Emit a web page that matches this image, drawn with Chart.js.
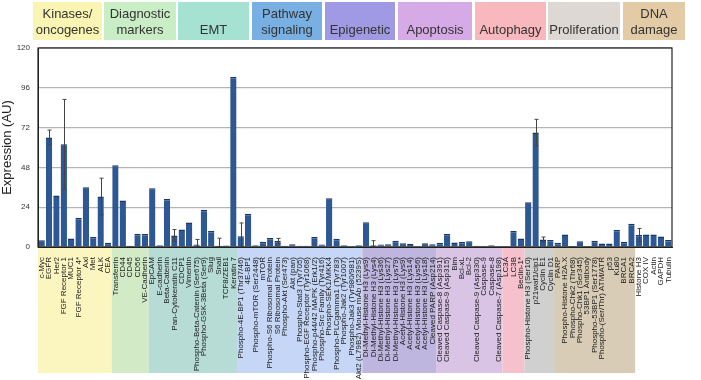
<!DOCTYPE html>
<html>
<head>
<meta charset="utf-8">
<script src="https://cdn.jsdelivr.net/npm/chart.js@4.4.1/dist/chart.umd.min.js"></script>
<style>
  html, body { margin: 0; padding: 0; background: #fff; }
  #wrap { width: 701px; height: 380px; }
</style>
</head>
<body>
<div id="wrap"><canvas id="chart" width="701" height="380"></canvas></div>
<script>
// marker names, one per bar
const labels = [
    'c-Myc', 'EGFR', 'Her2', 'FGF Receptor 1', 'MUC1', 'FGF Receptor 4*', 'Axl', 'Met', 'ALK', 'CEA',
    'Transferrin', 'CD44', 'CD45', 'CD56', 'VE-Cadherin',
    'EpCAM', 'E-cadherin', 'Beta-Catenin', 'Pan-Cytokeratin C11', 'CDCP1', 'Vimentin',
    'Phospho-Beta-Catenin (Ser675)', 'Phospho-GSK-3Beta (Ser9)', 'Slug', 'Snail', 'TCF8/ZEB1', 'Keratin 7',
    'Phospho-4E-BP1 (Thr37/46)', '4E-BP1', 'Phospho-mTOR (Ser2448)', 'mTOR',
    'Phospho-S6 Ribosomal Protein', 'S6 Ribosomal Protein', 'Phospho-Akt (Ser473)', 'Akt (pan)',
    'Phospho-Stat3 (Tyr705)', 'Phospho-EGF Receptor (Tyr1068)', 'Phospho-p44/42 MAPK (Erk1/2)',
    'Phospho-Src Family (Tyr416)', 'Phospho-SEK1/MKK4', 'Phospho-PLCgamma1 (Tyr783)',
    'Phospho-Jak2 (Tyr1007)', 'Phospho-Jak3 (Tyr980/981)', 'Akt2 (L79B2) Mouse mAb (5239S)',
    'Di-Methyl-Histone H3 (Lys9)', 'Di-Methyl-Histone H3 (Lys4)', 'Di-Methyl-Histone H3 (Lys36)',
    'Di-Methyl-Histone H3 (Lys27)', 'Di-Methyl-Histone H3 (Lys79)', 'Acetyl-Histone H3 (Lys9)',
    'Acetyl-Histone H3 (Lys14)', 'Acetyl-Histone H3 (Lys56)', 'Acetyl-Histone H3 (Lys18)', 'Cleaved PARP (Asp214)',
    'Cleaved Caspase-8 (Asp391)', 'Cleaved Caspase-9 (Asp315)', 'Bim', 'Bcl-xL', 'Bcl-2',
    'Cleaved Caspase-9 (Asp330)', 'Caspase-9', 'Caspase-8', 'Cleaved Caspase-7 (Asp198)',
    'LC3A', 'LC3B', 'Beclin-1*',
    'Phospho-Histone H3 (Ser10)', 'p21waf1/cip1', 'Cyclin E1', 'Cyclin D1', 'PARP',
    'Phospho-Histone H2A.X', 'Phospho-Chk2 (Thr68)', 'Phospho-Chk1 (Ser345)', '53BP1 Antibody',
    'Phospho-53BP1 (Ser1778)', 'Phospho-(Ser/Thr) ATM/ATR', 'p53', 'Ku80', 'BRCA1', 'BRCA2',
    'Histone H3', 'COX IV', 'Actin', 'GAPDH', 'Tubulin'
];

// mean expression (AU)
const expression = [
    4, 66, 31, 62, 5.2, 17.7, 36, 6, 30.5, 2.5,
    49.3, 28, 0.7, 7.8, 7.8,
    35.5, 1, 29, 7, 10.6, 14.7, 1.5, 22.4, 9.6, 0.8, 0.9, 102.5,
    6.5, 20, 1.1, 3.1, 5.5, 3.7, 0.7, 1.7, 0.7, 0.7, 6.1, 1.5, 29.4, 4.9, 1.1, 0.5, 1.1,
    14.9, 1, 1.5, 1.7, 3.7, 2.3, 2, 0.5, 2.3, 1.7,
    2.5, 7.8, 2.7, 3, 3.5, 0.7, 0.2, 1.1, 0.3,
    0.3, 9.6, 5.2,
    27, 69, 4.5, 4.2,
    2.5, 7.6, 0.1, 3.5, 0.2, 3.7, 2.1, 2.1, 10.2, 3.1, 14,
    7.2, 7.6, 7.6, 6.4, 4.2
];

// error (+/-), 0 where no bar drawn
const errors = [
    0, 4.5, 0, 27, 0, 0, 0, 0, 11, 0,
    0, 0, 0, 0, 0,
    0, 0, 0, 3.5, 0, 0, 3, 0, 0, 4.5, 0, 0,
    8, 0, 0, 0, 0, 1.5, 0, 0, 0, 0, 0, 0, 0, 0, 0, 0, 0,
    0, 2.8, 0, 0, 0, 0, 0, 0, 0, 0,
    0, 0, 0, 0, 0, 0, 0, 0, 0,
    0, 0, 0,
    0, 8, 1.5, 0,
    0, 0, 0, 0, 0, 0, 0, 0, 0, 0, 0,
    4, 0, 0, 0, 0
];

const yTicks = [0, 24, 48, 72, 96, 120];

// groups: name lines, first bar, last bar, header colour, band colour
const groupNames = [['Kinases/', 'oncogenes'], ['Diagnostic', 'markers'], ['EMT'], ['Pathway', 'signaling'],
    ['Epigenetic'], ['Apoptosis'], ['Autophagy'], ['Proliferation'], ['DNA', 'damage']];
const groupStart = [0, 10, 15, 27, 44, 54, 63, 66, 70];
const groupEnd = [9, 14, 26, 43, 53, 62, 65, 69, 80];
const headerColors = ['#fbf5b3', '#c9edc5', '#a6e2d2', '#78b0e4', '#a09ae4', '#d6aae6', '#f8b8bd', '#ddd8d3', '#e3cca5'];
const bandColors = ['#fbf6c0', '#d3eac6', '#b7dcd6', '#c6d6f6', '#beb6de', '#d9c4e6', '#f6c0cc', '#d0d0d0', '#d9ccb6'];
// header boxes sit at fixed spots above the plot
const headerLeft = [33, 104, 178, 252, 325, 398, 475, 548, 623];
const headerRight = [102, 176, 249, 322, 395, 472, 546, 620, 685];

const font = "'Liberation Sans', Arial, sans-serif";

const decorPlugin = {
    id: 'decor',
    beforeDraw(chart) {
        const ctx = chart.ctx;
        const x = chart.scales.x;
        const area = chart.chartArea;
        const half = (x.getPixelForValue(1) - x.getPixelForValue(0)) / 2;
        ctx.save();
        // label bands under the axis
        groupStart.forEach((s, i) => {
            const l = x.getPixelForValue(s) - half;
            const r = x.getPixelForValue(groupEnd[i]) + half;
            ctx.fillStyle = bandColors[i];
            ctx.fillRect(l, area.bottom, r - l, 373 - area.bottom);
        });
        // header boxes
        ctx.font = '13px ' + font;
        ctx.textAlign = 'center';
        ctx.textBaseline = 'middle';
        groupNames.forEach((name, i) => {
            ctx.fillStyle = headerColors[i];
            ctx.fillRect(headerLeft[i], 2, headerRight[i] - headerLeft[i], 38);
            ctx.fillStyle = '#333';
            const cx = (headerLeft[i] + headerRight[i]) / 2;
            if (name.length === 2) {
                ctx.fillText(name[0], cx, 14);
                ctx.fillText(name[1], cx, 30);
            } else {
                ctx.fillText(name[0], cx, 30);
            }
        });
        ctx.restore();
    },
    afterDatasetsDraw(chart) {
        const ctx = chart.ctx;
        const x = chart.scales.x;
        const y = chart.scales.y;
        ctx.save();
        ctx.strokeStyle = '#444';
        ctx.lineWidth = 1;
        errors.forEach((e, i) => {
            if (!e) return;
            const cx = Math.round(x.getPixelForValue(i)) + 0.5;
            const top = y.getPixelForValue(expression[i] + e);
            const bot = y.getPixelForValue(Math.max(0, expression[i] - e));
            ctx.beginPath();
            ctx.moveTo(cx, top);
            ctx.lineTo(cx, bot);
            ctx.moveTo(cx - 2, top);
            ctx.lineTo(cx + 2, top);
            ctx.moveTo(cx - 2, bot);
            ctx.lineTo(cx + 2, bot);
            ctx.stroke();
        });
        // frame around the plot
        const a = chart.chartArea;
        ctx.strokeStyle = '#222';
        ctx.lineWidth = 1.2;
        ctx.strokeRect(a.left, a.top, a.right - a.left, a.bottom - a.top);
        ctx.restore();
    }
};

new Chart(document.getElementById('chart').getContext('2d'), {
    type: 'bar',
    data: {
        labels: labels,
        datasets: [{
            data: expression,
            backgroundColor: '#2e5893',
            borderColor: '#1b3766',
            borderWidth: { top: 1.5, left: 0, right: 0, bottom: 0 },
            barPercentage: 0.86,
            categoryPercentage: 1
        }]
    },
    options: {
        responsive: false,
        animation: false,
        devicePixelRatio: 1,
        layout: { padding: { top: 48, right: 29, bottom: 0, left: 0 } },
        plugins: { legend: { display: false }, tooltip: { enabled: false } },
        scales: {
            x: {
                grid: { display: false },
                border: { display: true, color: '#222' },
                ticks: {
                    autoSkip: false,
                    maxRotation: 90,
                    minRotation: 90,
                    padding: 2,
                    color: '#1a1a1a',
                    font: { size: 8, family: font }
                },
                afterFit(scale) { scale.height = 133; }
            },
            y: {
                min: 0,
                max: 120,
                afterBuildTicks(scale) { scale.ticks = yTicks.map(v => ({ value: v })); },
                grid: { color: '#b4b4b4', lineWidth: 1.2, drawTicks: false },
                border: { display: true, color: '#222' },
                ticks: { color: '#333', padding: 8, font: { size: 8, family: font } },
                title: { display: true, text: 'Expression (AU)', color: '#222', font: { size: 13, family: font }, padding: 0 },
                afterFit(scale) { scale.width = 38; }
            }
        }
    },
    plugins: [decorPlugin]
});
</script>
</body>
</html>
